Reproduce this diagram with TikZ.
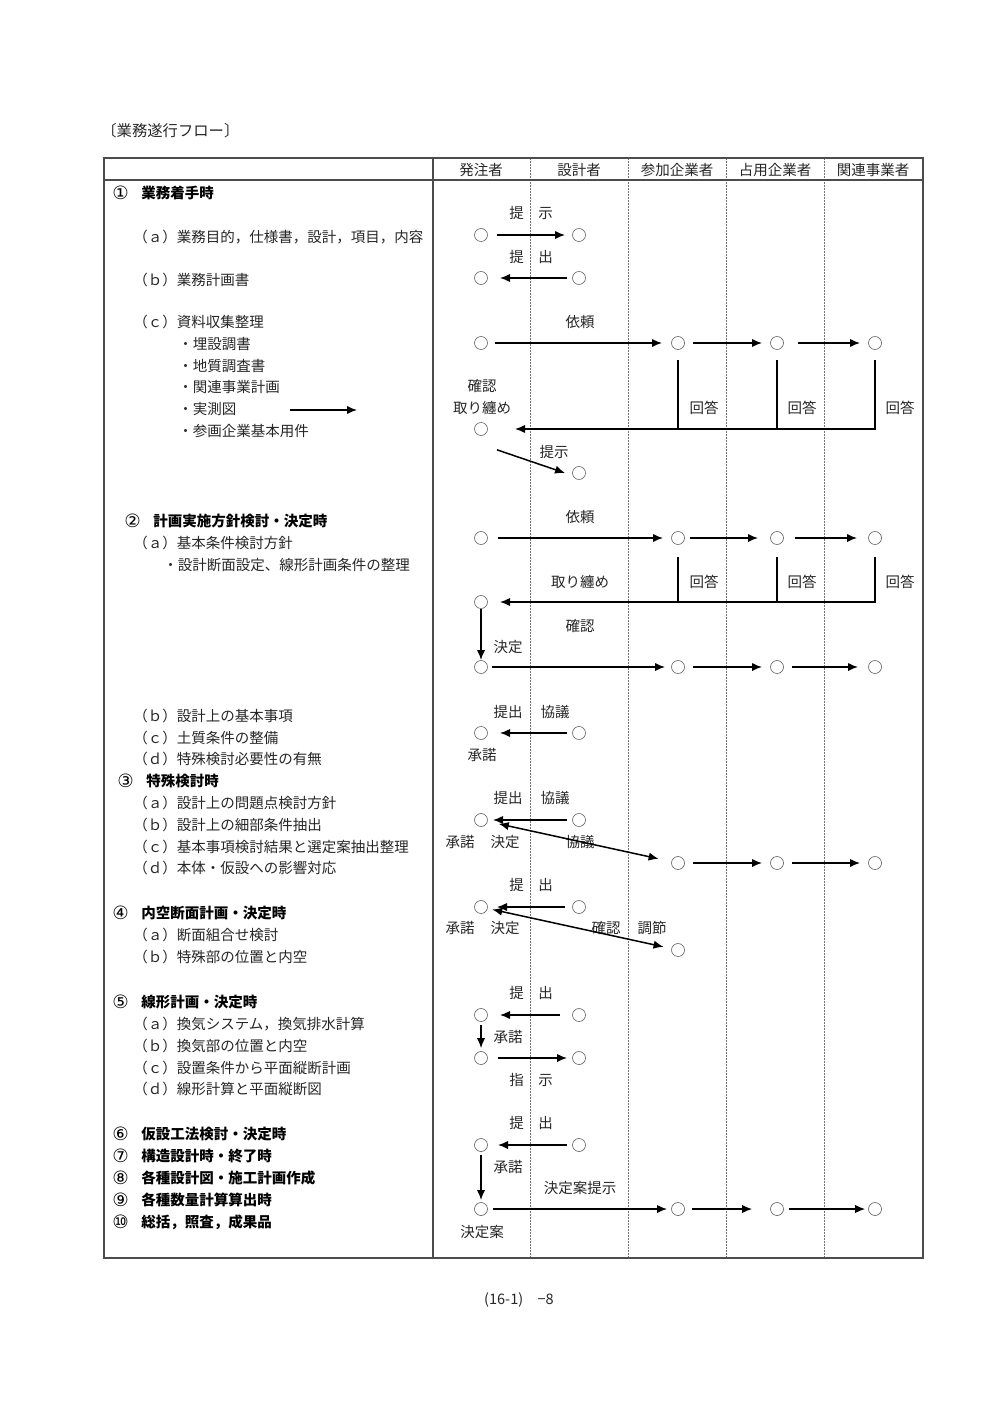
\documentclass[tikz,border=0pt]{standalone}
\usepackage{fontspec}
\newfontfamily\cjk{Noto Sans CJK JP}
\newfontfamily\dvs{DejaVu Sans}
\newcommand\circnum[1]{\makebox[17.4pt][l]{\raisebox{-0.6pt}{\dvs\mdseries\fontsize{11pt}{10pt}\selectfont #1}}}
\usetikzlibrary{arrows.meta}
\begin{document}
\begin{tikzpicture}[x=0.6pt,y=-0.6pt,
  every node/.style={font=\cjk\fontsize{8.7pt}{10pt}\selectfont, text=black!85},
  txt/.style={inner sep=0pt, anchor=west},
  head/.style={txt, font=\cjk\bfseries\fontsize{8.7pt}{10pt}\selectfont, text=black},
  lbl/.style={inner sep=0pt},
  cir/.style={circle, draw=black!60, line width=0.4pt, minimum size=7.8pt, inner sep=0pt, outer sep=0pt},
  arr/.style={line width=0.9pt, -{Latex[length=6pt,width=5pt]}},
  darr/.style={line width=0.9pt, {Latex[length=6pt,width=5pt]}-{Latex[length=6pt,width=5pt]}},
  ln/.style={line width=0.9pt},
  lane/.style={black!55, line width=0.35pt, dash pattern=on 1pt off 0.8pt},
  frame/.style={black!70, line width=0.8pt}
]
\useasboundingbox (0,0) rectangle (992,1403);

% ---------- table frame ----------
\foreach \x in {530,628,726,824}{ \draw[lane] (\x,158) -- (\x,1258); }
\draw[frame] (104,158) rectangle (923,1258);
\draw[frame] (104,180) -- (923,180);
\draw[frame] (433,158) -- (433,1258);

% ---------- title, header, footer ----------
\node[txt, font=\cjk\fontsize{9.2pt}{10pt}\selectfont] (title) at (101,131) {〔業務遂行フロー〕};
\node[lbl] (hd1) at (481,170) {発注者};
\node[lbl] (hd2) at (579,170) {設計者};
\node[lbl] (hd3) at (677,170) {参加企業者};
\node[lbl] (hd4) at (775,170) {占用企業者};
\node[lbl] (hd5) at (873,170) {関連事業者};
\node[lbl] (foot) at (519,1300) {(16-1)\quad −8};

% ---------- left column ----------
\node[head] (s1) at (112,193) {\circnum{①}業務着手時};
\node[txt] (s1a) at (133,237) {（ａ）業務目的，仕様書，設計，項目，内容};
\node[txt] (s1b) at (133,280) {（ｂ）業務計画書};
\node[txt] (s1c) at (133,322) {（ｃ）資料収集整理};
\node[txt] (s1c1) at (178,344) {・埋設調書};
\node[txt] (s1c2) at (178,366) {・地質調査書};
\node[txt] (s1c3) at (178,387) {・関連事業計画};
\node[txt] (s1c4) at (178,409) {・実測図};
\node[txt] (s1c5) at (178,431) {・参画企業基本用件};
\coordinate (sa) at (290,410);
\coordinate (sb) at (357,410);
\draw[arr] (sa) -- (sb);

\node[head] (s2) at (124,521) {\circnum{②}計画実施方針検討・決定時};
\node[txt] (s2a) at (133,543) {（ａ）基本条件検討方針};
\node[txt] (s2a1) at (163,565) {・設計断面設定、線形計画条件の整理};
\node[txt] (s2b) at (133,716) {（ｂ）設計上の基本事項};
\node[txt] (s2c) at (133,738) {（ｃ）土質条件の整備};
\node[txt] (s2d) at (133,759) {（ｄ）特殊検討必要性の有無};

\node[head] (s3) at (117,781) {\circnum{③}特殊検討時};
\node[txt] (s3a) at (133,803) {（ａ）設計上の問題点検討方針};
\node[txt] (s3b) at (133,825) {（ｂ）設計上の細部条件抽出};
\node[txt] (s3c) at (133,847) {（ｃ）基本事項検討結果と選定案抽出整理};
\node[txt] (s3d) at (133,868) {（ｄ）本体・仮設への影響対応};

\node[head] (s4) at (112,913) {\circnum{④}内空断面計画・決定時};
\node[txt] (s4a) at (133,935) {（ａ）断面組合せ検討};
\node[txt] (s4b) at (133,957) {（ｂ）特殊部の位置と内空};

\node[head] (s5) at (112,1002) {\circnum{⑤}線形計画・決定時};
\node[txt] (s5a) at (133,1024) {（ａ）換気システム，換気排水計算};
\node[txt] (s5b) at (133,1046) {（ｂ）換気部の位置と内空};
\node[txt] (s5c) at (133,1068) {（ｃ）設置条件から平面縦断計画};
\node[txt] (s5d) at (133,1089) {（ｄ）線形計算と平面縦断図};

\node[head] (s6) at (112,1134) {\circnum{⑥}仮設工法検討・決定時};
\node[head] (s7) at (112,1156) {\circnum{⑦}構造設計時・終了時};
\node[head] (s8) at (112,1178) {\circnum{⑧}各種設計図・施工計画作成};
\node[head] (s9) at (112,1200) {\circnum{⑨}各種数量計算算出時};
\node[head] (s10) at (112,1222) {\circnum{⑩}総括，照査，成果品};

% ---------- section 1 flow ----------
\node[cir] (a1) at (481,235) {};
\node[cir] (a2) at (579,235) {};
\node[lbl] (la) at (531,213) {提　示};
\draw[arr, shorten <=5.7pt, shorten >=4.5pt] (a1) -- (a2);

\node[cir] (b1) at (481,278) {};
\node[cir] (b2) at (579,278) {};
\node[lbl] (lb) at (531,257) {提　出};
\draw[arr, shorten <=3.3pt, shorten >=7.5pt] (b2) -- (b1);

\node[cir] (c1) at (481,343) {};
\node[cir] (c3) at (678,343) {};
\node[cir] (c4) at (777,343) {};
\node[cir] (c5) at (875,343) {};
\node[lbl] (lc) at (580,322) {依頼};
\draw[arr, shorten <=4.5pt, shorten >=5.7pt] (c1) -- (c3);
\draw[arr, shorten <=5.1pt, shorten >=5.1pt] (c3) -- (c4);
\draw[arr, shorten <=8.7pt, shorten >=5.1pt] (c4) -- (c5);

\node[cir] (k1) at (481,429) {};
\node[lbl] (lk1) at (482,386) {確認};
\node[lbl] (lk2) at (482,408) {取り纏め};
\draw[arr, shorten <=6.3pt, shorten >=16.5pt] (c5) |- (k1);
\draw[ln, shorten <=6.3pt] (c3) -- (c3 |- k1);
\draw[ln, shorten <=6.3pt] (c4) -- (c4 |- k1);
\node[lbl] (lr1) at (704,408) {回答};
\node[lbl] (lr2) at (802,408) {回答};
\node[lbl] (lr3) at (900,408) {回答};

\node[cir] (p2) at (579,473) {};
\node[lbl] (lp) at (554,452) {提示};
\draw[arr] ([xshift=9.6pt,yshift=-12.5pt]k1.center) -- ([xshift=-8.4pt]p2.center);

% ---------- section 2 flow ----------
\node[cir] (d1) at (481,538) {};
\node[cir] (d3) at (678,538) {};
\node[cir] (d4) at (777,538) {};
\node[cir] (d5) at (875,538) {};
\node[lbl] (ld) at (580,517) {依頼};
\draw[arr, shorten <=6.3pt, shorten >=5.1pt] (d1) -- (d3);
\draw[arr, shorten <=3.3pt, shorten >=7.5pt] (d3) -- (d4);
\draw[arr, shorten <=6.9pt, shorten >=6.9pt] (d4) -- (d5);

\node[cir] (e1) at (481,602) {};
\draw[arr, shorten <=7.5pt, shorten >=7.5pt] (d5) |- (e1);
\draw[ln, shorten <=7.5pt] (d3) -- (d3 |- e1);
\draw[ln, shorten <=7.5pt] (d4) -- (d4 |- e1);
\node[lbl] (le) at (580,582) {取り纏め};
\node[lbl] (lr4) at (704,582) {回答};
\node[lbl] (lr5) at (802,582) {回答};
\node[lbl] (lr6) at (900,582) {回答};

\node[cir] (f1) at (481,667) {};
\node[cir] (f3) at (678,667) {};
\node[cir] (f4) at (777,667) {};
\node[cir] (f5) at (875,667) {};
\node[lbl] (lf1) at (580,626) {確認};
\node[lbl] (lf2) at (508,647) {決定};
\draw[arr, shorten <=0.5pt, shorten >=0.3pt] (e1) -- (f1);
\draw[arr, shorten <=2.7pt, shorten >=3.9pt] (f1) -- (f3);
\draw[arr, shorten <=5.1pt, shorten >=5.1pt] (f3) -- (f4);
\draw[arr, shorten <=5.1pt, shorten >=6.3pt] (f4) -- (f5);

% ---------- (b)-(d) ----------
\node[cir] (g1) at (481,733) {};
\node[cir] (g2) at (579,733) {};
\node[lbl] (lg1) at (508,712) {提出};
\node[lbl] (lg2) at (555,712) {協議};
\node[lbl] (lg3) at (482,755) {承諾};
\draw[arr, shorten <=3.3pt, shorten >=7.5pt] (g2) -- (g1);

% ---------- section 3 ----------
\node[cir] (h1) at (481,820) {};
\node[cir] (h2) at (579,820) {};
\node[lbl] (lh1) at (508,798) {提出};
\node[lbl] (lh2) at (555,798) {協議};
\draw[arr, shorten <=3.3pt, shorten >=3.3pt] (h2) -- (h1);

\node[cir] (i3) at (678,863) {};
\node[cir] (i4) at (777,863) {};
\node[cir] (i5) at (875,863) {};
\node[lbl] (li1) at (460,842) {承諾};
\node[lbl] (li2) at (505,842) {決定};
\node[lbl] (li3) at (580,842) {協議};
\draw[darr, shorten <=7pt, shorten >=8pt] (h1) -- (i3);
\draw[arr, shorten <=5.1pt, shorten >=5.1pt] (i3) -- (i4);
\draw[arr, shorten <=5.1pt, shorten >=5.1pt] (i4) -- (i5);

% ---------- section 4 ----------
\node[cir] (j1) at (481,907) {};
\node[cir] (j2) at (579,907) {};
\node[lbl] (lj) at (531,885) {提　出};
\draw[arr, shorten <=4.5pt, shorten >=5.7pt] (j2) -- (j1);

\node[cir] (m3) at (678,950) {};
\node[lbl] (lm1) at (460,928) {承諾};
\node[lbl] (lm2) at (505,928) {決定};
\node[lbl] (lm3) at (606,928) {確認};
\node[lbl] (lm4) at (652,928) {調節};
\draw[darr, shorten <=3pt, shorten >=5pt] (j1) -- (m3);

% ---------- section 5 ----------
\node[cir] (n1) at (481,1015) {};
\node[cir] (n2) at (579,1015) {};
\node[lbl] (ln) at (531,993) {提　出};
\draw[arr, shorten <=7.5pt, shorten >=7.5pt] (n2) -- (n1);

\node[cir] (o1) at (481,1058) {};
\node[cir] (o2) at (579,1058) {};
\node[lbl] (lo1) at (508,1037) {承諾};
\node[lbl] (lo2) at (531,1080) {指　示};
\draw[arr, shorten <=2pt, shorten >=2pt] (n1) -- (o1);
\draw[arr, shorten <=6.3pt, shorten >=3.3pt] (o1) -- (o2);

% ---------- section 6-10 ----------
\node[cir] (q1) at (481,1145) {};
\node[cir] (q2) at (579,1145) {};
\node[lbl] (lq1) at (531,1123) {提　出};
\node[lbl] (lq2) at (508,1167) {承諾};
\draw[arr, shorten <=3.3pt, shorten >=6.3pt] (q2) -- (q1);

\node[cir] (r1) at (481,1209) {};
\node[cir] (r3) at (678,1209) {};
\node[cir] (r4) at (777,1209) {};
\node[cir] (r5) at (875,1209) {};
\node[lbl] (lr7) at (580,1188) {決定案提示};
\node[lbl] (lr8) at (482,1232) {決定案};
\draw[arr, shorten <=2pt, shorten >=1.5pt] (q1) -- (r1);
\draw[arr, shorten <=3.3pt, shorten >=2.7pt] (r1) -- (r3);
\draw[arr, shorten <=4.5pt, shorten >=11pt] (r3) -- (r4);
\draw[arr, shorten <=3.3pt, shorten >=2pt] (r4) -- (r5);
\end{tikzpicture}
\end{document}
